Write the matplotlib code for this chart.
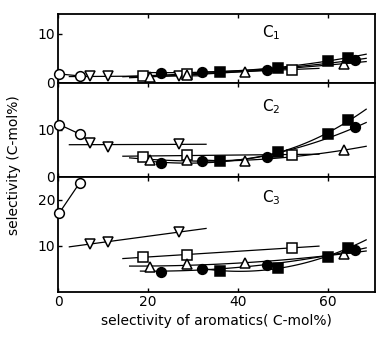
import matplotlib
matplotlib.use("Agg")
import matplotlib.pyplot as plt
import numpy as np

# x positions (selectivity of aromatics, C-mol%) per series
x_circle_open = [0.3, 4.8]
x_dtri = [7.0, 11.2, 26.9]
x_square_open = [18.9, 28.6, 52.0]
x_tri = [20.4, 28.6, 41.6, 63.5]
x_circle_fill = [22.8, 32.0, 46.4, 66.1]
x_square_fill = [36.0, 48.8, 60.1, 64.4]

# selectivities per panel: C1, C2, C3
c1_circle_open = [1.8, 1.4]
c1_dtri = [1.3, 1.3, 1.4]
c1_square_open = [1.4, 1.8, 2.7]
c1_tri = [1.2, 1.6, 2.3, 3.9]
c1_circle_fill = [2.0, 2.3, 2.7, 4.7]
c1_square_fill = [2.3, 3.1, 4.5, 5.1]

c2_circle_open = [11.1, 9.1]
c2_dtri = [7.2, 6.4, 7.0]
c2_square_open = [4.3, 4.7, 4.7]
c2_tri = [3.6, 3.6, 3.4, 5.7]
c2_circle_fill = [2.9, 3.4, 4.3, 10.6]
c2_square_fill = [3.4, 5.3, 9.1, 12.0]

c3_circle_open = [17.2, 23.7]
c3_dtri = [10.4, 10.9, 13.0]
c3_square_open = [7.6, 8.0, 9.6]
c3_tri = [5.5, 6.0, 6.2, 8.3]
c3_circle_fill = [4.4, 5.0, 5.8, 9.1]
c3_square_fill = [4.6, 5.2, 7.6, 9.6]

panel_labels = ["C$_1$", "C$_2$", "C$_3$"]

MARKERS = {
    "circle_open": ("o", "white"),
    "dtri": ("v", "white"),
    "square_open": ("s", "white"),
    "tri": ("^", "white"),
    "circle_fill": ("o", "black"),
    "square_fill": ("s", "black"),
}


def draw_series(ax, x, y, key):
    marker, face = MARKERS[key]
    x = np.asarray(x)
    y = np.asarray(y)
    if key == "circle_open":
        ax.plot(x, y, color="black", lw=0.9, zorder=2, clip_on=False)
    else:
        deg = 2 if len(x) >= 4 else 1
        coef = np.polyfit(x, y, deg)
        xs = np.linspace(x.min() - 4.5, min(x.max() + 6.0, 68.5), 100)
        ax.plot(xs, np.polyval(coef, xs), color="black", lw=0.9, zorder=2)
    ms = 7 if marker == "o" else 6.5
    ax.plot(x, y, linestyle="none", marker=marker, ms=ms, mfc=face,
            mec="black", mew=1.1, zorder=3, clip_on=False)


def main() -> None:
    plt.rcParams["font.family"] = "DejaVu Sans"
    fig = plt.figure(figsize=(3.9, 3.45), dpi=100)
    gs = fig.add_gridspec(3, 1, height_ratios=[14 * 4.9, 20 * 4.7, 25 * 4.6],
                          hspace=0, left=0.149, right=0.962, top=0.959, bottom=0.154)
    axes = [fig.add_subplot(gs[i]) for i in range(3)]

    panels = [
        (c1_circle_open, c1_dtri, c1_square_open, c1_tri, c1_circle_fill, c1_square_fill),
        (c2_circle_open, c2_dtri, c2_square_open, c2_tri, c2_circle_fill, c2_square_fill),
        (c3_circle_open, c3_dtri, c3_square_open, c3_tri, c3_circle_fill, c3_square_fill),
    ]
    xs = [x_circle_open, x_dtri, x_square_open, x_tri, x_circle_fill, x_square_fill]
    keys = ["circle_open", "dtri", "square_open", "tri", "circle_fill", "square_fill"]
    ylims = [(0, 14), (0, 20), (0, 25)]
    yticks = [[0, 10], [0, 10], [10, 20]]
    label_y = [10.2, 14.9, 20.4]

    for ax, ys, ylim, yt, lab, ly in zip(axes, panels, ylims, yticks, panel_labels, label_y):
        for x, y, key in zip(xs, ys, keys):
            draw_series(ax, x, y, key)
        ax.set_xlim(0, 70.5)
        ax.set_ylim(*ylim)
        ax.set_yticks(yt)
        ax.set_xticks([0, 20, 40, 60])
        ax.tick_params(direction="in", length=3, width=1, labelsize=10, pad=2,
                       top=True)
        ax.text(47.5, ly, lab, fontsize=11, ha="center", va="center")
        for spine in ax.spines.values():
            spine.set_linewidth(1.3)
        if ax is not axes[-1]:
            ax.tick_params(labelbottom=False)

    axes[-1].set_xlabel("selectivity of aromatics( C-mol%)", fontsize=10, labelpad=4)
    fig.text(0.035, 0.52, "selectivity (C-mol%)", rotation=90, fontsize=10,
             ha="center", va="center")
    fig.savefig("out.png", dpi=100)


if __name__ == "__main__":
    main()
